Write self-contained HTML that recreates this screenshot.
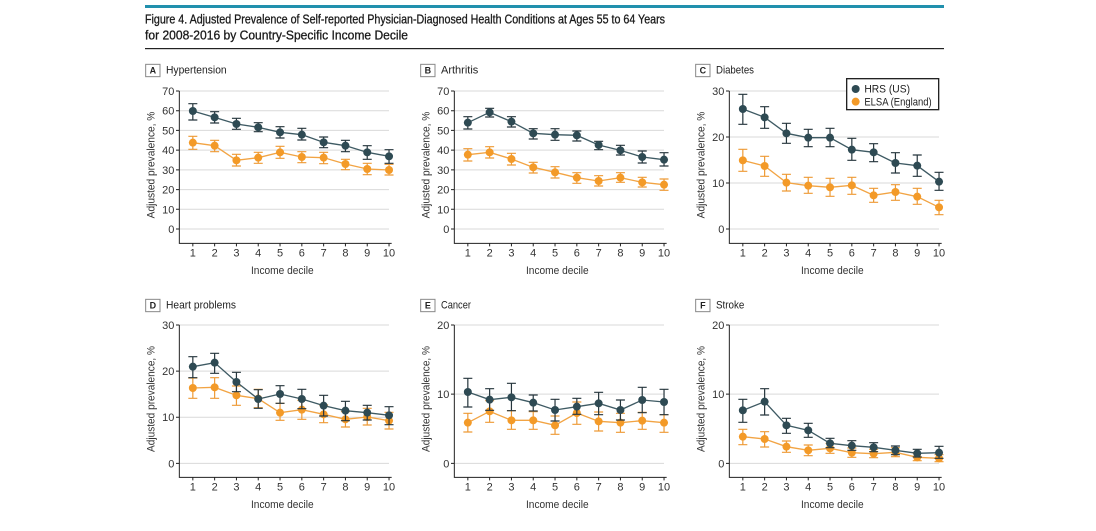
<!DOCTYPE html>
<html>
<head>
<meta charset="utf-8">
<style>
html,body{margin:0;padding:0;background:#fff;}
svg{display:block;font-family:"Liberation Sans",sans-serif;}
</style>
</head>
<body>
<svg width="1096" height="531" viewBox="0 0 1096 531" xmlns="http://www.w3.org/2000/svg">
<defs>
<marker id="mh" markerWidth="30" markerHeight="30" refX="15" refY="15" markerUnits="userSpaceOnUse" viewBox="0 0 30 30"><circle cx="15" cy="15" r="12" fill="#2e4a53"/></marker>
<marker id="me" markerWidth="30" markerHeight="30" refX="15" refY="15" markerUnits="userSpaceOnUse" viewBox="0 0 30 30"><circle cx="15" cy="15" r="12" fill="#f39a28"/></marker>
</defs>

<!-- header -->
<rect x="145" y="5" width="799" height="3" fill="#2190ad"/>
<text x="145" y="23.5" font-size="13" fill="#1a1a1a" stroke="#1a1a1a" stroke-width="0.3" textLength="520" lengthAdjust="spacingAndGlyphs">Figure 4. Adjusted Prevalence of Self-reported Physician-Diagnosed Health Conditions at Ages 55 to 64 Years</text>
<text x="145" y="39.5" font-size="13" fill="#1a1a1a" stroke="#1a1a1a" stroke-width="0.3" textLength="263" lengthAdjust="spacingAndGlyphs">for 2008-2016 by Country-Specific Income Decile</text>
<rect x="145" y="48" width="799" height="1.2" fill="#222"/>

<!-- ===== Panel A ===== -->
<g transform="translate(130,55) scale(0.333333)">
<rect x="47" y="28" width="43" height="37" fill="#fff" stroke="#888" stroke-width="3"/>
<text x="68.5" y="56" font-size="27" font-weight="bold" text-anchor="middle" fill="#222">A</text>
<text x="108" y="56" font-size="33" fill="#222" textLength="182" lengthAdjust="spacingAndGlyphs">Hypertension</text>
<path d="M148 108H777M148 167.1H777M148 226.3H777M148 285.4H777M148 344.6H777M148 403.7H777M148 462.9H777M148 522H777" stroke="#d9d9d9" stroke-width="3" fill="none"/>
<path d="M148 108V565H785" stroke="#222" stroke-width="3" fill="none"/>
<path d="M138 108H148M138 167.1H148M138 226.3H148M138 285.4H148M138 344.6H148M138 403.7H148M138 462.9H148M138 522H148" stroke="#222" stroke-width="3"/>
<path d="M188.5 565v9M253.9 565v9M319.3 565v9M384.7 565v9M450.1 565v9M515.5 565v9M580.9 565v9M646.3 565v9M711.7 565v9M777.1 565v9" stroke="#222" stroke-width="3"/>
<g font-size="33" fill="#333" text-anchor="end">
<text x="133" y="120">70</text><text x="133" y="179.1">60</text><text x="133" y="238.3">50</text><text x="133" y="297.4">40</text><text x="133" y="356.6">30</text><text x="133" y="415.7">20</text><text x="133" y="474.9">10</text><text x="133" y="534">0</text>
</g>
<g font-size="33" fill="#333" text-anchor="middle">
<text x="188.5" y="605">1</text><text x="253.9" y="605">2</text><text x="319.3" y="605">3</text><text x="384.7" y="605">4</text><text x="450.1" y="605">5</text><text x="515.5" y="605">6</text><text x="580.9" y="605">7</text><text x="646.3" y="605">8</text><text x="711.7" y="605">9</text><text x="777.1" y="605">10</text>
</g>
<text x="457" y="657" font-size="33" fill="#333" text-anchor="middle" textLength="188" lengthAdjust="spacingAndGlyphs">Income decile</text>
<text transform="translate(74,330) rotate(-90)" font-size="33" fill="#333" text-anchor="middle" textLength="320" lengthAdjust="spacingAndGlyphs">Adjusted prevalence, %</text>
<path d="M188.5 244V283M175 244h27M175 283h27M253.9 256V290M240.4 256h27M240.4 290h27M319.3 298V333M305.8 298h27M305.8 333h27M384.7 292V325M371.2 292h27M371.2 325h27M450.1 274V310M436.6 274h27M436.6 310h27M515.5 290V323M502 290h27M502 323h27M580.9 292V326M567.4 292h27M567.4 326h27M646.3 313V344M632.8 313h27M632.8 344h27M711.7 325V359M698.2 325h27M698.2 359h27M777.1 328V360M763.6 328h27M763.6 360h27" stroke="#ee9a36" stroke-width="3.6" fill="none"/>
<polyline points="188.5,263 253.9,272 319.3,316 384.7,308 450.1,292 515.5,306 580.9,308 646.3,327 711.7,342 777.1,345" fill="none" stroke="#f2a444" stroke-width="4" marker-start="url(#me)" marker-mid="url(#me)" marker-end="url(#me)"/>
<path d="M188.5 146V195M175 146h27M175 195h27M253.9 170V204M240.4 170h27M240.4 204h27M319.3 190V223M305.8 190h27M305.8 223h27M384.7 203V230M371.2 203h27M371.2 230h27M450.1 215V249M436.6 215h27M436.6 249h27M515.5 220V255M502 220h27M502 255h27M580.9 246V278M567.4 246h27M567.4 278h27M646.3 256V290M632.8 256h27M632.8 290h27M711.7 272V313M698.2 272h27M698.2 313h27M777.1 284V325M763.6 284h27M763.6 325h27" stroke="#26363d" stroke-width="3.6" fill="none"/>
<polyline points="188.5,168 253.9,187 319.3,207 384.7,217 450.1,232 515.5,239 580.9,262 646.3,272 711.7,292 777.1,304" fill="none" stroke="#3e5a63" stroke-width="4" marker-start="url(#mh)" marker-mid="url(#mh)" marker-end="url(#mh)"/>
</g>

<!-- ===== Panel B ===== -->
<g transform="translate(405,55) scale(0.333333)">
<rect x="47" y="28" width="43" height="37" fill="#fff" stroke="#888" stroke-width="3"/>
<text x="68.5" y="56" font-size="27" font-weight="bold" text-anchor="middle" fill="#222">B</text>
<text x="108" y="56" font-size="33" fill="#222" textLength="112" lengthAdjust="spacingAndGlyphs">Arthritis</text>
<path d="M148 108H777M148 167.1H777M148 226.3H777M148 285.4H777M148 344.6H777M148 403.7H777M148 462.9H777M148 522H777" stroke="#d9d9d9" stroke-width="3" fill="none"/>
<path d="M148 108V565H785" stroke="#222" stroke-width="3" fill="none"/>
<path d="M138 108H148M138 167.1H148M138 226.3H148M138 285.4H148M138 344.6H148M138 403.7H148M138 462.9H148M138 522H148" stroke="#222" stroke-width="3"/>
<path d="M188.5 565v9M253.9 565v9M319.3 565v9M384.7 565v9M450.1 565v9M515.5 565v9M580.9 565v9M646.3 565v9M711.7 565v9M777.1 565v9" stroke="#222" stroke-width="3"/>
<g font-size="33" fill="#333" text-anchor="end">
<text x="133" y="120">70</text><text x="133" y="179.1">60</text><text x="133" y="238.3">50</text><text x="133" y="297.4">40</text><text x="133" y="356.6">30</text><text x="133" y="415.7">20</text><text x="133" y="474.9">10</text><text x="133" y="534">0</text>
</g>
<g font-size="33" fill="#333" text-anchor="middle">
<text x="188.5" y="605">1</text><text x="253.9" y="605">2</text><text x="319.3" y="605">3</text><text x="384.7" y="605">4</text><text x="450.1" y="605">5</text><text x="515.5" y="605">6</text><text x="580.9" y="605">7</text><text x="646.3" y="605">8</text><text x="711.7" y="605">9</text><text x="777.1" y="605">10</text>
</g>
<text x="457" y="657" font-size="33" fill="#333" text-anchor="middle" textLength="188" lengthAdjust="spacingAndGlyphs">Income decile</text>
<text transform="translate(74,330) rotate(-90)" font-size="33" fill="#333" text-anchor="middle" textLength="320" lengthAdjust="spacingAndGlyphs">Adjusted prevalence, %</text>
<path d="M188.5 281V318M175 281h27M175 318h27M253.9 275V309M240.4 275h27M240.4 309h27M319.3 295V330M305.8 295h27M305.8 330h27M384.7 322V354M371.2 322h27M371.2 354h27M450.1 335V369M436.6 335h27M436.6 369h27M515.5 353V385M502 353h27M502 385h27M580.9 362V393M567.4 362h27M567.4 393h27M646.3 353V382M632.8 353h27M632.8 382h27M711.7 367V396M698.2 367h27M698.2 396h27M777.1 372V406M763.6 372h27M763.6 406h27" stroke="#ee9a36" stroke-width="3.6" fill="none"/>
<polyline points="188.5,299 253.9,292 319.3,312 384.7,337 450.1,352 515.5,368 580.9,378 646.3,368 711.7,382 777.1,389" fill="none" stroke="#f2a444" stroke-width="4" marker-start="url(#me)" marker-mid="url(#me)" marker-end="url(#me)"/>
<path d="M188.5 185V222M175 185h27M175 222h27M253.9 160V186M240.4 160h27M240.4 186h27M319.3 185V216M305.8 185h27M305.8 216h27M384.7 221V252M371.2 221h27M371.2 252h27M450.1 221V256M436.6 221h27M436.6 256h27M515.5 228V258M502 228h27M502 258h27M580.9 259V284M567.4 259h27M567.4 284h27M646.3 271V300M632.8 271h27M632.8 300h27M711.7 288V324M698.2 288h27M698.2 324h27M777.1 293V333M763.6 293h27M763.6 333h27" stroke="#26363d" stroke-width="3.6" fill="none"/>
<polyline points="188.5,203 253.9,172 319.3,200 384.7,235 450.1,239 515.5,241 580.9,270 646.3,286 711.7,306 777.1,314" fill="none" stroke="#3e5a63" stroke-width="4" marker-start="url(#mh)" marker-mid="url(#mh)" marker-end="url(#mh)"/>
</g>

<!-- ===== Panel C ===== -->
<g transform="translate(680,55) scale(0.333333)">
<rect x="47" y="28" width="43" height="37" fill="#fff" stroke="#888" stroke-width="3"/>
<text x="68.5" y="56" font-size="27" font-weight="bold" text-anchor="middle" fill="#222">C</text>
<text x="108" y="56" font-size="33" fill="#222" textLength="114" lengthAdjust="spacingAndGlyphs">Diabetes</text>
<path d="M148 108H777M148 246H777M148 384H777M148 522H777" stroke="#d9d9d9" stroke-width="3" fill="none"/>
<path d="M148 108V565H785" stroke="#222" stroke-width="3" fill="none"/>
<path d="M138 108H148M138 246H148M138 384H148M138 522H148" stroke="#222" stroke-width="3"/>
<path d="M188.5 565v9M253.9 565v9M319.3 565v9M384.7 565v9M450.1 565v9M515.5 565v9M580.9 565v9M646.3 565v9M711.7 565v9M777.1 565v9" stroke="#222" stroke-width="3"/>
<g font-size="33" fill="#333" text-anchor="end">
<text x="133" y="120">30</text><text x="133" y="258">20</text><text x="133" y="396">10</text><text x="133" y="534">0</text>
</g>
<g font-size="33" fill="#333" text-anchor="middle">
<text x="188.5" y="605">1</text><text x="253.9" y="605">2</text><text x="319.3" y="605">3</text><text x="384.7" y="605">4</text><text x="450.1" y="605">5</text><text x="515.5" y="605">6</text><text x="580.9" y="605">7</text><text x="646.3" y="605">8</text><text x="711.7" y="605">9</text><text x="777.1" y="605">10</text>
</g>
<text x="457" y="657" font-size="33" fill="#333" text-anchor="middle" textLength="188" lengthAdjust="spacingAndGlyphs">Income decile</text>
<text transform="translate(74,330) rotate(-90)" font-size="33" fill="#333" text-anchor="middle" textLength="320" lengthAdjust="spacingAndGlyphs">Adjusted prevalence, %</text>
<path d="M188.5 283V349M175 283h27M175 349h27M253.9 304V364M240.4 304h27M240.4 364h27M319.3 358V408M305.8 358h27M305.8 408h27M384.7 367V415M371.2 367h27M371.2 415h27M450.1 370V424M436.6 370h27M436.6 424h27M515.5 367V418M502 367h27M502 418h27M580.9 400V442M567.4 400h27M567.4 442h27M646.3 389V436M632.8 389h27M632.8 436h27M711.7 400V448M698.2 400h27M698.2 448h27M777.1 436V479M763.6 436h27M763.6 479h27" stroke="#ee9a36" stroke-width="3.6" fill="none"/>
<polyline points="188.5,316 253.9,333 319.3,383 384.7,392 450.1,397 515.5,391 580.9,421 646.3,411 711.7,425 777.1,457" fill="none" stroke="#f2a444" stroke-width="4" marker-start="url(#me)" marker-mid="url(#me)" marker-end="url(#me)"/>
<path d="M188.5 118V208M175 118h27M175 208h27M253.9 155V220M240.4 155h27M240.4 220h27M319.3 205V265M305.8 205h27M305.8 265h27M384.7 223V275M371.2 223h27M371.2 275h27M450.1 220V275M436.6 220h27M436.6 275h27M515.5 250V316M502 250h27M502 316h27M580.9 266V320M567.4 266h27M567.4 320h27M646.3 293V354M632.8 293h27M632.8 354h27M711.7 300V364M698.2 300h27M698.2 364h27M777.1 352V406M763.6 352h27M763.6 406h27" stroke="#26363d" stroke-width="3.6" fill="none"/>
<polyline points="188.5,162 253.9,187 319.3,235 384.7,248 450.1,248 515.5,284 580.9,292 646.3,324 711.7,332 777.1,380" fill="none" stroke="#3e5a63" stroke-width="4" marker-start="url(#mh)" marker-mid="url(#mh)" marker-end="url(#mh)"/>
<!-- legend -->
<rect x="500" y="71" width="276" height="93" fill="#fff" stroke="#222" stroke-width="4"/>
<circle cx="527" cy="102" r="12" fill="#2e4a53"/>
<circle cx="527" cy="140" r="12" fill="#f39a28"/>
<text x="553" y="113" font-size="33" fill="#222" textLength="137" lengthAdjust="spacingAndGlyphs">HRS (US)</text>
<text x="553" y="151" font-size="33" fill="#222" textLength="202" lengthAdjust="spacingAndGlyphs">ELSA (England)</text>
</g>

<!-- ===== Panel D ===== -->
<g transform="translate(130,290) scale(0.333333)">
<rect x="47" y="28" width="43" height="37" fill="#fff" stroke="#888" stroke-width="3"/>
<text x="68.5" y="56" font-size="27" font-weight="bold" text-anchor="middle" fill="#222">D</text>
<text x="108" y="56" font-size="33" fill="#222" textLength="210" lengthAdjust="spacingAndGlyphs">Heart problems</text>
<path d="M148 105H777M148 243.3H777M148 381.7H777M148 520H777" stroke="#d9d9d9" stroke-width="3" fill="none"/>
<path d="M148 105V562H785" stroke="#222" stroke-width="3" fill="none"/>
<path d="M138 105H148M138 243.3H148M138 381.7H148M138 520H148" stroke="#222" stroke-width="3"/>
<path d="M188.5 562v9M253.9 562v9M319.3 562v9M384.7 562v9M450.1 562v9M515.5 562v9M580.9 562v9M646.3 562v9M711.7 562v9M777.1 562v9" stroke="#222" stroke-width="3"/>
<g font-size="33" fill="#333" text-anchor="end">
<text x="133" y="117">30</text><text x="133" y="255.3">20</text><text x="133" y="393.7">10</text><text x="133" y="532">0</text>
</g>
<g font-size="33" fill="#333" text-anchor="middle">
<text x="188.5" y="602">1</text><text x="253.9" y="602">2</text><text x="319.3" y="602">3</text><text x="384.7" y="602">4</text><text x="450.1" y="602">5</text><text x="515.5" y="602">6</text><text x="580.9" y="602">7</text><text x="646.3" y="602">8</text><text x="711.7" y="602">9</text><text x="777.1" y="602">10</text>
</g>
<text x="457" y="654" font-size="33" fill="#333" text-anchor="middle" textLength="188" lengthAdjust="spacingAndGlyphs">Income decile</text>
<text transform="translate(74,327) rotate(-90)" font-size="33" fill="#333" text-anchor="middle" textLength="318" lengthAdjust="spacingAndGlyphs">Adjusted prevalence, %</text>
<path d="M188.5 264V325M175 264h27M175 325h27M253.9 263V325M240.4 263h27M240.4 325h27M319.3 288V346M305.8 288h27M305.8 346h27M384.7 298V353M371.2 298h27M371.2 353h27M450.1 340V391M436.6 340h27M436.6 391h27M515.5 331V388M502 331h27M502 388h27M580.9 345V398M567.4 345h27M567.4 398h27M646.3 365V411M632.8 365h27M632.8 411h27M711.7 355V405M698.2 355h27M698.2 405h27M777.1 367V417M763.6 367h27M763.6 417h27" stroke="#ee9a36" stroke-width="3.6" fill="none"/>
<polyline points="188.5,294 253.9,292 319.3,316 384.7,326 450.1,368 515.5,359 580.9,373 646.3,388 711.7,381 777.1,392" fill="none" stroke="#f2a444" stroke-width="4" marker-start="url(#me)" marker-mid="url(#me)" marker-end="url(#me)"/>
<path d="M188.5 200V263M175 200h27M175 263h27M253.9 190V250M240.4 190h27M240.4 250h27M319.3 247V305M305.8 247h27M305.8 305h27M384.7 299V355M371.2 299h27M371.2 355h27M450.1 287V340M436.6 287h27M436.6 340h27M515.5 298V356M502 298h27M502 356h27M580.9 316V378M567.4 316h27M567.4 378h27M646.3 334V392M632.8 334h27M632.8 392h27M711.7 346V390M698.2 346h27M698.2 390h27M777.1 350V404M763.6 350h27M763.6 404h27" stroke="#26363d" stroke-width="3.6" fill="none"/>
<polyline points="188.5,230 253.9,218 319.3,276 384.7,327 450.1,312 515.5,327 580.9,347 646.3,362 711.7,368 777.1,376" fill="none" stroke="#3e5a63" stroke-width="4" marker-start="url(#mh)" marker-mid="url(#mh)" marker-end="url(#mh)"/>
</g>

<!-- ===== Panel E ===== -->
<g transform="translate(405,290) scale(0.333333)">
<rect x="47" y="28" width="43" height="37" fill="#fff" stroke="#888" stroke-width="3"/>
<text x="68.5" y="56" font-size="27" font-weight="bold" text-anchor="middle" fill="#222">E</text>
<text x="108" y="56" font-size="33" fill="#222" textLength="90" lengthAdjust="spacingAndGlyphs">Cancer</text>
<path d="M148 105H777M148 312.5H777M148 520H777" stroke="#d9d9d9" stroke-width="3" fill="none"/>
<path d="M148 105V562H785" stroke="#222" stroke-width="3" fill="none"/>
<path d="M138 105H148M138 312.5H148M138 520H148" stroke="#222" stroke-width="3"/>
<path d="M188.5 562v9M253.9 562v9M319.3 562v9M384.7 562v9M450.1 562v9M515.5 562v9M580.9 562v9M646.3 562v9M711.7 562v9M777.1 562v9" stroke="#222" stroke-width="3"/>
<g font-size="33" fill="#333" text-anchor="end">
<text x="133" y="117">20</text><text x="133" y="324.5">10</text><text x="133" y="532">0</text>
</g>
<g font-size="33" fill="#333" text-anchor="middle">
<text x="188.5" y="602">1</text><text x="253.9" y="602">2</text><text x="319.3" y="602">3</text><text x="384.7" y="602">4</text><text x="450.1" y="602">5</text><text x="515.5" y="602">6</text><text x="580.9" y="602">7</text><text x="646.3" y="602">8</text><text x="711.7" y="602">9</text><text x="777.1" y="602">10</text>
</g>
<text x="457" y="654" font-size="33" fill="#333" text-anchor="middle" textLength="188" lengthAdjust="spacingAndGlyphs">Income decile</text>
<text transform="translate(74,327) rotate(-90)" font-size="33" fill="#333" text-anchor="middle" textLength="318" lengthAdjust="spacingAndGlyphs">Adjusted prevalence, %</text>
<path d="M188.5 370V426M175 370h27M175 426h27M253.9 332V397M240.4 332h27M240.4 397h27M319.3 362V418M305.8 362h27M305.8 418h27M384.7 365V418M371.2 365h27M371.2 418h27M450.1 378V433M436.6 378h27M436.6 433h27M515.5 336V403M502 336h27M502 403h27M580.9 366V423M567.4 366h27M567.4 423h27M646.3 370V427M632.8 370h27M632.8 427h27M711.7 367V418M698.2 367h27M698.2 418h27M777.1 374V427M763.6 374h27M763.6 427h27" stroke="#ee9a36" stroke-width="3.6" fill="none"/>
<polyline points="188.5,398 253.9,364 319.3,391 384.7,391 450.1,406 515.5,369 580.9,394 646.3,398 711.7,392 777.1,398" fill="none" stroke="#f2a444" stroke-width="4" marker-start="url(#me)" marker-mid="url(#me)" marker-end="url(#me)"/>
<path d="M188.5 265V351M175 265h27M175 351h27M253.9 296V361M240.4 296h27M240.4 361h27M319.3 280V362M305.8 280h27M305.8 362h27M384.7 315V363M371.2 315h27M371.2 363h27M450.1 328V393M436.6 328h27M436.6 393h27M515.5 325V373M502 325h27M502 373h27M580.9 307V374M567.4 307h27M567.4 374h27M646.3 330V390M632.8 330h27M632.8 390h27M711.7 292V368M698.2 292h27M698.2 368h27M777.1 298V374M763.6 298h27M763.6 374h27" stroke="#26363d" stroke-width="3.6" fill="none"/>
<polyline points="188.5,306 253.9,329 319.3,322 384.7,338 450.1,360 515.5,350 580.9,340 646.3,360 711.7,330 777.1,336" fill="none" stroke="#3e5a63" stroke-width="4" marker-start="url(#mh)" marker-mid="url(#mh)" marker-end="url(#mh)"/>
</g>

<!-- ===== Panel F ===== -->
<g transform="translate(680,290) scale(0.333333)">
<rect x="47" y="28" width="43" height="37" fill="#fff" stroke="#888" stroke-width="3"/>
<text x="68.5" y="56" font-size="27" font-weight="bold" text-anchor="middle" fill="#222">F</text>
<text x="108" y="56" font-size="33" fill="#222" textLength="85" lengthAdjust="spacingAndGlyphs">Stroke</text>
<path d="M148 105H777M148 312.5H777M148 520H777" stroke="#d9d9d9" stroke-width="3" fill="none"/>
<path d="M148 105V562H785" stroke="#222" stroke-width="3" fill="none"/>
<path d="M138 105H148M138 312.5H148M138 520H148" stroke="#222" stroke-width="3"/>
<path d="M188.5 562v9M253.9 562v9M319.3 562v9M384.7 562v9M450.1 562v9M515.5 562v9M580.9 562v9M646.3 562v9M711.7 562v9M777.1 562v9" stroke="#222" stroke-width="3"/>
<g font-size="33" fill="#333" text-anchor="end">
<text x="133" y="117">20</text><text x="133" y="324.5">10</text><text x="133" y="532">0</text>
</g>
<g font-size="33" fill="#333" text-anchor="middle">
<text x="188.5" y="602">1</text><text x="253.9" y="602">2</text><text x="319.3" y="602">3</text><text x="384.7" y="602">4</text><text x="450.1" y="602">5</text><text x="515.5" y="602">6</text><text x="580.9" y="602">7</text><text x="646.3" y="602">8</text><text x="711.7" y="602">9</text><text x="777.1" y="602">10</text>
</g>
<text x="457" y="654" font-size="33" fill="#333" text-anchor="middle" textLength="188" lengthAdjust="spacingAndGlyphs">Income decile</text>
<text transform="translate(74,327) rotate(-90)" font-size="33" fill="#333" text-anchor="middle" textLength="318" lengthAdjust="spacingAndGlyphs">Adjusted prevalence, %</text>
<path d="M188.5 418V464M175 418h27M175 464h27M253.9 425V471M240.4 425h27M240.4 471h27M319.3 453V487M305.8 453h27M305.8 487h27M384.7 465V497M371.2 465h27M371.2 497h27M450.1 460V490M436.6 460h27M436.6 490h27M515.5 474V502M502 474h27M502 502h27M580.9 478V503M567.4 478h27M567.4 503h27M646.3 473V500M632.8 473h27M632.8 500h27M711.7 490V512M698.2 490h27M698.2 512h27M777.1 494V515M763.6 494h27M763.6 515h27" stroke="#ee9a36" stroke-width="3.6" fill="none"/>
<polyline points="188.5,440 253.9,447 319.3,470 384.7,481 450.1,475 515.5,488 580.9,491 646.3,487 711.7,502 777.1,505" fill="none" stroke="#f2a444" stroke-width="4" marker-start="url(#me)" marker-mid="url(#me)" marker-end="url(#me)"/>
<path d="M188.5 328V397M175 328h27M175 397h27M253.9 296V375M240.4 296h27M240.4 375h27M319.3 385V430M305.8 385h27M305.8 430h27M384.7 400V442M371.2 400h27M371.2 442h27M450.1 445V473M436.6 445h27M436.6 473h27M515.5 452V481M502 452h27M502 481h27M580.9 458V485M567.4 458h27M567.4 485h27M646.3 468V494M632.8 468h27M632.8 494h27M711.7 478V501M698.2 478h27M698.2 501h27M777.1 469V505M763.6 469h27M763.6 505h27" stroke="#26363d" stroke-width="3.6" fill="none"/>
<polyline points="188.5,361 253.9,335 319.3,406 384.7,421 450.1,460 515.5,467 580.9,472 646.3,481 711.7,490 777.1,488" fill="none" stroke="#3e5a63" stroke-width="4" marker-start="url(#mh)" marker-mid="url(#mh)" marker-end="url(#mh)"/>
</g>
</svg>
</body>
</html>
